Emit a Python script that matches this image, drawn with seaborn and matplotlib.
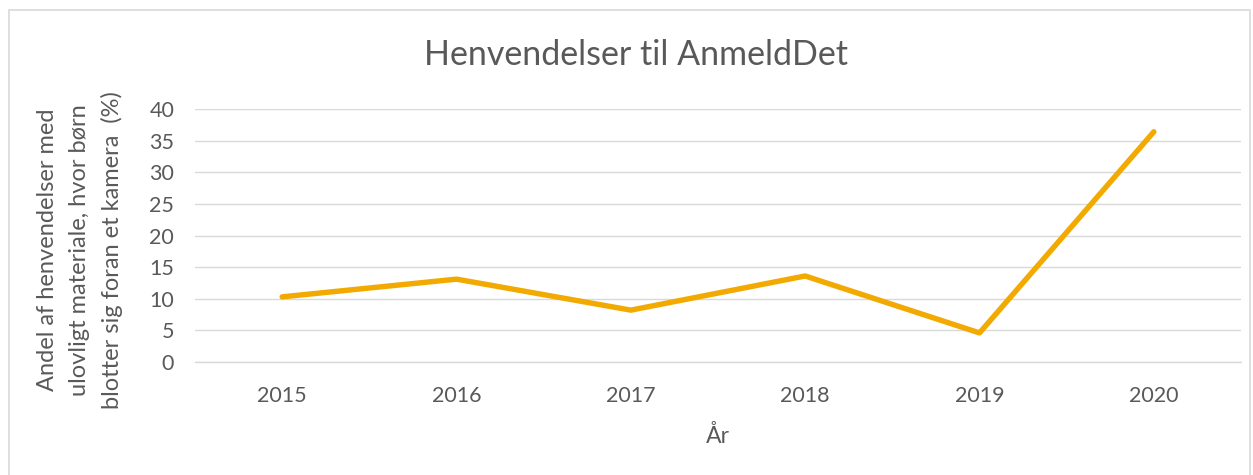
import matplotlib
matplotlib.use("Agg")
import matplotlib.pyplot as plt
import seaborn as sns
import pandas as pd
from matplotlib.patches import Rectangle

years = ["2015", "2016", "2017", "2018", "2019", "2020"]
shares = [10.3, 13.1, 8.2, 13.6, 4.6, 36.4]
y_ticks = [0, 5, 10, 15, 20, 25, 30, 35, 40]

title = "Henvendelser til AnmeldDet"
y_label = "Andel af henvendelser med\nulovligt materiale, hvor børn\nblotter sig foran et kamera  (%)"
x_label = "År"

df = pd.DataFrame({"year": years, "share": shares})

sns.set_theme(style="white")
plt.rcParams["font.family"] = ["Lato", "DejaVu Sans"]

W, H = 1253, 475
fig = plt.figure(figsize=(W / 100, H / 100), dpi=100)
ax = fig.add_axes([195 / W, (H - 362) / H, (1241 - 195) / W, (362 - 109) / H])

text_col = "#595959"
sns.lineplot(data=df, x="year", y="share", ax=ax, color="#F2AA00",
             linewidth=3.9, sort=False, solid_capstyle="round", zorder=3)

ax.set_xlim(-0.5, len(years) - 0.5)
ax.set_ylim(0, 40)
ax.set_yticks(y_ticks)
ax.set_yticklabels([str(t) for t in y_ticks])
ax.grid(axis="y", color="#d9d9d9", linewidth=1.0)
ax.grid(axis="x", visible=False)
ax.axhline(0, color="#d9d9d9", linewidth=1.0, clip_on=False, zorder=1)
for s in ax.spines.values():
    s.set_visible(False)
ax.tick_params(axis="both", length=0, labelsize=15.5, labelcolor=text_col)
ax.tick_params(axis="y", pad=15)
ax.tick_params(axis="x", pad=17)
ax.set_xlabel(x_label, fontsize=16.5, color=text_col, labelpad=14)
ax.set_ylabel("")

fig.text(80 / W, (H - 250) / H, y_label, rotation=90, ha="center", va="center",
         fontsize=17, color=text_col, linespacing=1.6)
fig.text(636 / W, (H - 55) / H, title, ha="center", va="center",
         fontsize=24.5, color=text_col)

fig.patches.append(Rectangle((9 / W, -0.1), (1250 - 9) / W, (H - 10) / H + 0.1,
                             transform=fig.transFigure, fill=False,
                             edgecolor="#d9d9d9", linewidth=1.2))

fig.savefig("out.png", dpi=100, facecolor="white")
